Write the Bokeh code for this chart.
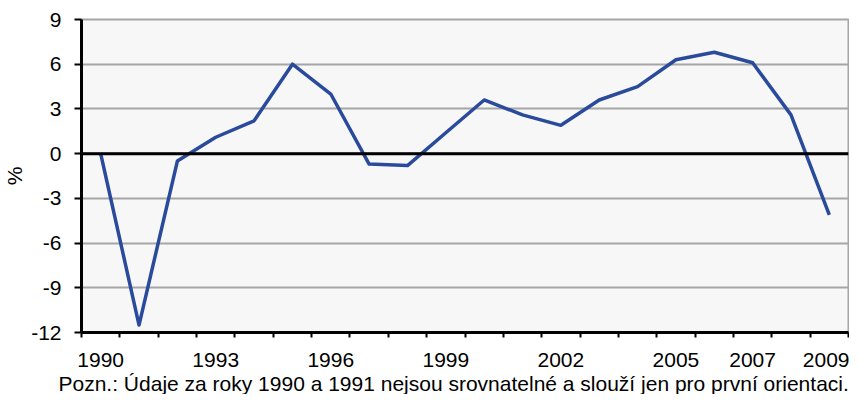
from bokeh.plotting import figure
from bokeh.models import Range1d, FixedTicker, Span, Title
from bokeh.embed import file_html
from bokeh.resources import INLINE

# ---- data ----
years = list(range(1990, 2010))
growth = [0.0, -11.5, -0.5, 1.1, 2.2, 6.0, 4.0, -0.7, -0.8, 1.4,
          3.6, 2.6, 1.9, 3.6, 4.5, 6.3, 6.8, 6.1, 2.6, -4.1]
x_label_years = [1990, 1993, 1996, 1999, 2002, 2005, 2007, 2009]
y_ticks = [-12, -9, -6, -3, 0, 3, 6, 9]
y_axis_title = "%"
footnote = "Pozn.: Údaje za roky 1990 a 1991 nejsou srovnatelné a slouží jen pro první orientaci."

FONT = "Liberation Sans"
LINE_COLOR = "#2A4B9B"

p = figure(width=849, height=394, output_backend="svg", toolbar_location=None,
           x_range=Range1d(years[0] - 0.5, years[-1] + 0.5),
           y_range=Range1d(y_ticks[0], y_ticks[-1]),
           min_border_left=76, min_border_right=1, min_border_top=19,
           min_border_bottom=62)

p.background_fill_color = "#F7F7F7"
p.border_fill_color = "white"
p.outline_line_color = "#A6A6A6"
p.outline_line_width = 2

# grid
p.xgrid.grid_line_color = None
p.ygrid.ticker = FixedTicker(ticks=y_ticks)
p.ygrid.grid_line_color = "#A6A6A6"
p.ygrid.grid_line_width = 2

# x axis
boundaries = [y - 0.5 for y in years] + [years[-1] + 0.5]
xa = p.xaxis[0]
xa.ticker = FixedTicker(ticks=x_label_years, minor_ticks=boundaries)
xa.major_label_overrides = {y: str(y) for y in x_label_years}
xa.major_tick_out = 0
xa.major_tick_in = 0
xa.major_tick_line_color = None
xa.minor_tick_out = 5
xa.minor_tick_in = 0
xa.minor_tick_line_color = "black"
xa.minor_tick_line_width = 2
xa.axis_line_color = "black"
xa.axis_line_width = 3
xa.major_label_standoff = 15
xa.major_label_text_font = FONT
xa.major_label_text_font_size = "21px"
xa.major_label_text_color = "black"

# y axis
ya = p.yaxis[0]
ya.ticker = FixedTicker(ticks=y_ticks)
ya.major_label_overrides = {t: str(t) for t in y_ticks}
ya.major_tick_out = 7
ya.major_tick_in = 0
ya.major_tick_line_color = "black"
ya.major_tick_line_width = 2
ya.minor_tick_line_color = None
ya.axis_line_color = "black"
ya.axis_line_width = 3
ya.major_label_standoff = 13
ya.major_label_text_font = FONT
ya.major_label_text_font_size = "21px"
ya.major_label_text_color = "black"
ya.axis_label = y_axis_title
ya.axis_label_standoff = 2
ya.axis_label_text_font = FONT
ya.axis_label_text_font_size = "21px"
ya.axis_label_text_font_style = "normal"
ya.axis_label_text_color = "black"

# zero line
p.add_layout(Span(location=0, dimension="width", line_color="black", line_width=3))

# series
p.line(years, growth, line_color=LINE_COLOR, line_width=3.5, line_join="round")

# footnote
p.add_layout(Title(text=footnote, align="left", offset=-23, standoff=0,
                   text_font=FONT, text_font_size="21px", text_font_style="normal",
                   text_color="black"), "below")

open("out.html", "w").write(file_html(p, INLINE))
